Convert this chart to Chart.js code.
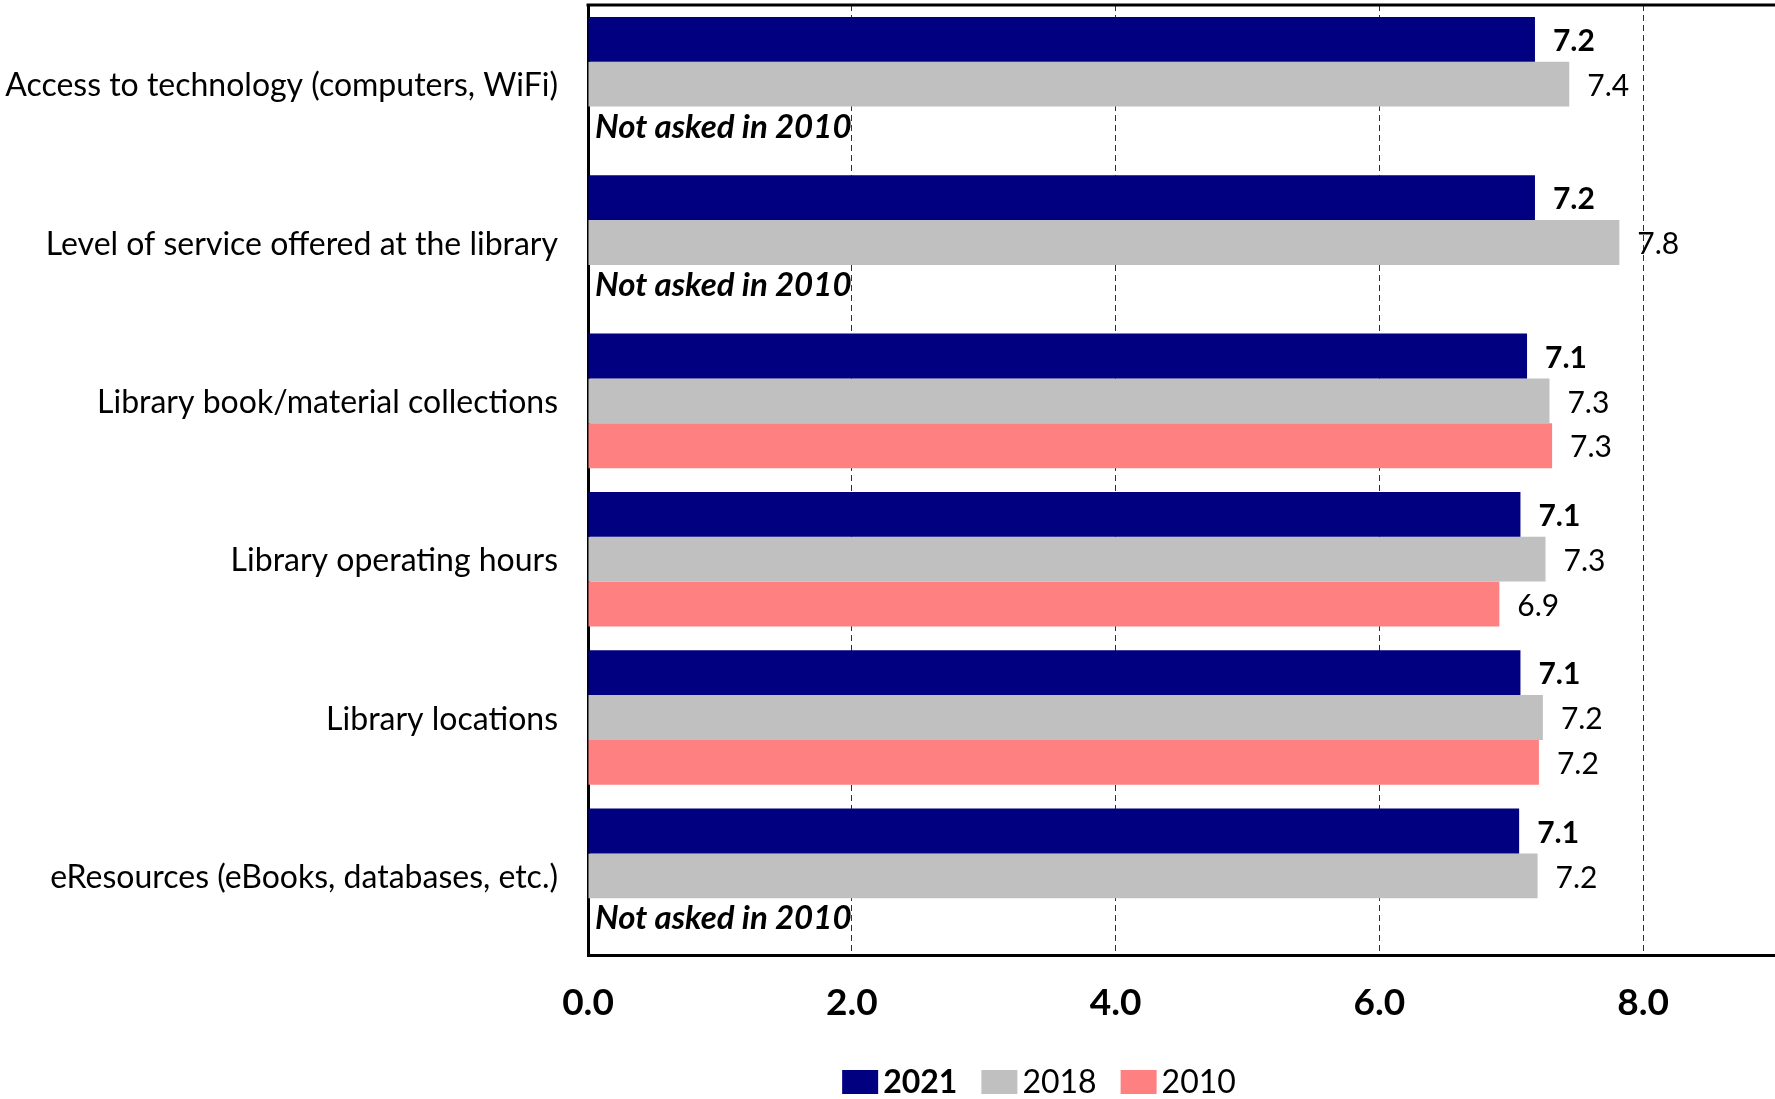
<!DOCTYPE html>
<html>
<head>
<meta charset="utf-8">
<script src="https://cdn.jsdelivr.net/npm/chart.js@4.4.1/dist/chart.umd.min.js"></script>
<style>
  html, body { margin: 0; padding: 0; background: #fff; }
  #wrap { width: 1775px; height: 1099px; }
</style>
</head>
<body>
<div id="wrap"><canvas id="ratings" width="1775" height="1099"></canvas></div>
<script>
// Satisfaction ratings by library service area, three survey years
const categories = [
  'Access to technology (computers, WiFi)',
  'Level of service offered at the library',
  'Library book/material collections',
  'Library operating hours',
  'Library locations',
  'eResources (eBooks, databases, etc.)'
];
const years = ['2021', '2018', '2010'];
const values2021 = [7.18, 7.18, 7.12, 7.07, 7.07, 7.06];
const values2018 = [7.44, 7.82, 7.29, 7.26, 7.24, 7.20];
const values2010 = [null, null, 7.31, 6.91, 7.21, null];
const xTicks = [0, 2, 4, 6, 8];
const notAskedText = 'Not asked in 2010';

const colors = ['#000080', '#C0C0C0', '#FF8080'];
const FONT = 'Lato';

// value labels to the right of each bar, plus the note where 2010 has no value
const valueLabels = {
  id: 'valueLabels',
  afterDatasetsDraw(chart) {
    const ctx = chart.ctx;
    ctx.save();
    ctx.fillStyle = '#000';
    ctx.textBaseline = 'middle';
    ctx.textAlign = 'left';
    chart.data.datasets.forEach((ds, di) => {
      const meta = chart.getDatasetMeta(di);
      meta.data.forEach((bar, i) => {
        const v = ds.data[i];
        if (v === null) {
          ctx.font = 'italic bold 33px ' + FONT;
          ctx.fillText(notAskedText, chart.chartArea.left + 7, bar.y - 2);
          return;
        }
        ctx.font = (di === 0 ? 'bold ' : '') + '30px ' + FONT;
        ctx.fillText(v.toFixed(1), bar.x + 18, bar.y + 2);
      });
    });
    ctx.restore();
  }
};

// top frame line and the legend (2021 entry is bold)
const frameAndLegend = {
  id: 'frameAndLegend',
  afterDraw(chart) {
    const ctx = chart.ctx;
    const area = chart.chartArea;
    ctx.save();
    ctx.strokeStyle = '#000';
    ctx.lineWidth = 3;
    ctx.beginPath();
    ctx.moveTo(area.left - 1.5, area.top);
    ctx.lineTo(area.right, area.top);
    ctx.stroke();

    const boxW = 36, boxH = 24, textGap = 5, itemGap = 24, cy = 1082;
    const fonts = chart.data.datasets.map((ds, i) => (i === 0 ? 'bold ' : '') + '32px ' + FONT);
    const widths = chart.data.datasets.map((ds, i) => {
      ctx.font = fonts[i];
      return boxW + textGap + ctx.measureText(ds.label).width;
    });
    const total = widths.reduce((a, b) => a + b, 0) + itemGap * (widths.length - 1);
    let x = 1039 - total / 2;
    ctx.textBaseline = 'middle';
    ctx.textAlign = 'left';
    chart.data.datasets.forEach((ds, i) => {
      ctx.fillStyle = ds.backgroundColor;
      ctx.fillRect(x, cy - boxH / 2, boxW, boxH);
      ctx.fillStyle = '#000';
      ctx.font = fonts[i];
      ctx.fillText(ds.label, x + boxW + textGap, cy + 1);
      x += widths[i] + itemGap;
    });
    ctx.restore();
  }
};

new Chart(document.getElementById('ratings'), {
  type: 'bar',
  data: {
    labels: categories,
    datasets: [
      { label: years[0], data: values2021, backgroundColor: colors[0] },
      { label: years[1], data: values2018, backgroundColor: colors[1] },
      { label: years[2], data: values2010, backgroundColor: colors[2] }
    ]
  },
  options: {
    indexAxis: 'y',
    responsive: false,
    animation: false,
    devicePixelRatio: 1,
    layout: { padding: { top: 5, right: 0, bottom: 0, left: 0 } },
    datasets: { bar: { categoryPercentage: 0.85, barPercentage: 1.0 } },
    plugins: {
      legend: { display: false },
      tooltip: { enabled: false }
    },
    scales: {
      x: {
        min: 0,
        max: 9,
        afterBuildTicks(scale) {
          scale.ticks = xTicks.map(v => ({ value: v }));
        },
        afterFit(scale) {
          scale.height = 144;
          scale.paddingLeft = 0;
          scale.paddingRight = 0;
        },
        ticks: {
          color: '#000',
          font: { family: FONT, size: 37, weight: 'bold' },
          padding: 26,
          callback: v => Number(v).toFixed(1)
        },
        grid: { color: '#303030', lineWidth: 1, drawTicks: false },
        border: { display: true, color: '#000', width: 3, dash: [6, 4] }
      },
      y: {
        afterFit(scale) {
          scale.width = 588;
          scale.paddingTop = 0;
          scale.paddingBottom = 0;
        },
        ticks: {
          color: '#000',
          font: { family: FONT, size: 32 },
          padding: 30,
          labelOffset: 2
        },
        grid: { display: false, drawTicks: false },
        border: { display: true, color: '#000', width: 3 }
      }
    }
  },
  plugins: [valueLabels, frameAndLegend]
});
</script>
</body>
</html>
